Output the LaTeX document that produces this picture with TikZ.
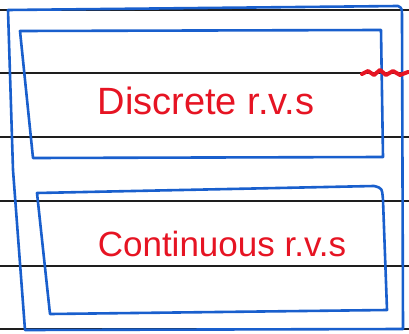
\documentclass[tikz,border=0pt]{standalone}
\usepackage{fontspec}
\setmainfont{Liberation Sans}
\definecolor{penblue}{RGB}{25,95,205}
\definecolor{penred}{RGB}{230,20,35}
\definecolor{ruleink}{RGB}{30,30,30}
\begin{document}
\begin{tikzpicture}[x=1pt,y=-1pt,
  ruling/.style={ruleink,line width=1.6pt},
  penbox/.style={penblue,line width=2.6pt,line join=round},
  pentext/.style={penred,font=\fontsize{#1}{#1}\selectfont}]
\useasboundingbox[fill=white] (0,0) rectangle (409,334);
% ruled notebook lines
\foreach \yy in {10,73,137,201,266,329}
  \draw[ruling] (0,\yy) -- (409,\yy);
% outer frame
\draw[penbox] (8,10) -- (398,6) .. controls (402,8) .. (402,20) -- (403,329) -- (25,330) -- (13,170) -- cycle;
% upper category box
\draw[penbox] (20,31) -- (381,30) -- (383,157) -- (33,158) -- cycle;
% lower category box
\draw[penbox] (37,193) -- (374,186) .. controls (382,188) .. (383,200) -- (387,310) -- (50,314) -- cycle;
% stray red mark at the right edge
\draw[penred,line width=4pt,line cap=round,line join=round] (362,74) -- (368,71) -- (374,75) -- (380,70) -- (386,75) -- (393,71) -- (400,75) -- (408,72);
\node[pentext=38] (discrete) at (206,101) {Discrete r.v.s};
\node[pentext=35] (continuous) at (222,244) {Continuous r.v.s};
\end{tikzpicture}
\end{document}
